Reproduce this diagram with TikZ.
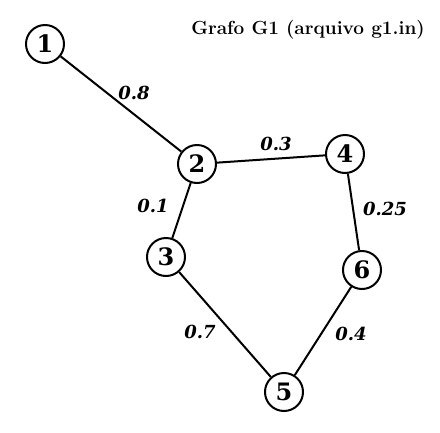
\documentclass[tikz,border=0pt]{standalone}
\usepackage{fontspec}
\newfontfamily\numfont{DejaVu Serif}
\usepackage{tikz}

\tikzset{
  vertex/.style={draw, circle, line width=2pt, minimum size=38pt, inner sep=0pt,
    font=\numfont\bfseries\fontsize{24}{26}\selectfont},
  edge/.style={line width=2pt},
  weight/.style={font=\numfont\bfseries\itshape\fontsize{18}{21}\selectfont}
}

\begin{document}
\begin{tikzpicture}[x=1pt, y=-1pt]
\useasboundingbox (0,0) rectangle (440,432);

% Draw vertices
\node[vertex] (v1) at (45,44) {1};
\node[vertex] (v2) at (197,164) {2};
\node[vertex] (v4) at (345,154) {4};
\node[vertex] (v3) at (166,257) {3};
\node[vertex] (v6) at (362,270) {6};
\node[vertex] (v5) at (284,392) {5};

% Draw edges
\draw[edge] (v1) -- (v2);
\draw[edge] (v2) -- (v4);
\draw[edge] (v2) -- (v3);
\draw[edge] (v4) -- (v6);
\draw[edge] (v3) -- (v5);
\draw[edge] (v6) -- (v5);

% Add weights
\node[weight] (w12) at (134,93) {0.8};
\node[weight] (w24) at (276,144) {0.3};
\node[weight] (w23) at (153,206) {0.1};
\node[weight] (w46) at (385,209) {0.25};
\node[weight] (w35) at (200,332) {0.7};
\node[weight] (w65) at (351,334) {0.4};

% Title
\node[font=\bfseries\fontsize{19}{22}\selectfont] (title) at (308,30) {Grafo G1 (arquivo g1.in)};
\end{tikzpicture}
\end{document}
